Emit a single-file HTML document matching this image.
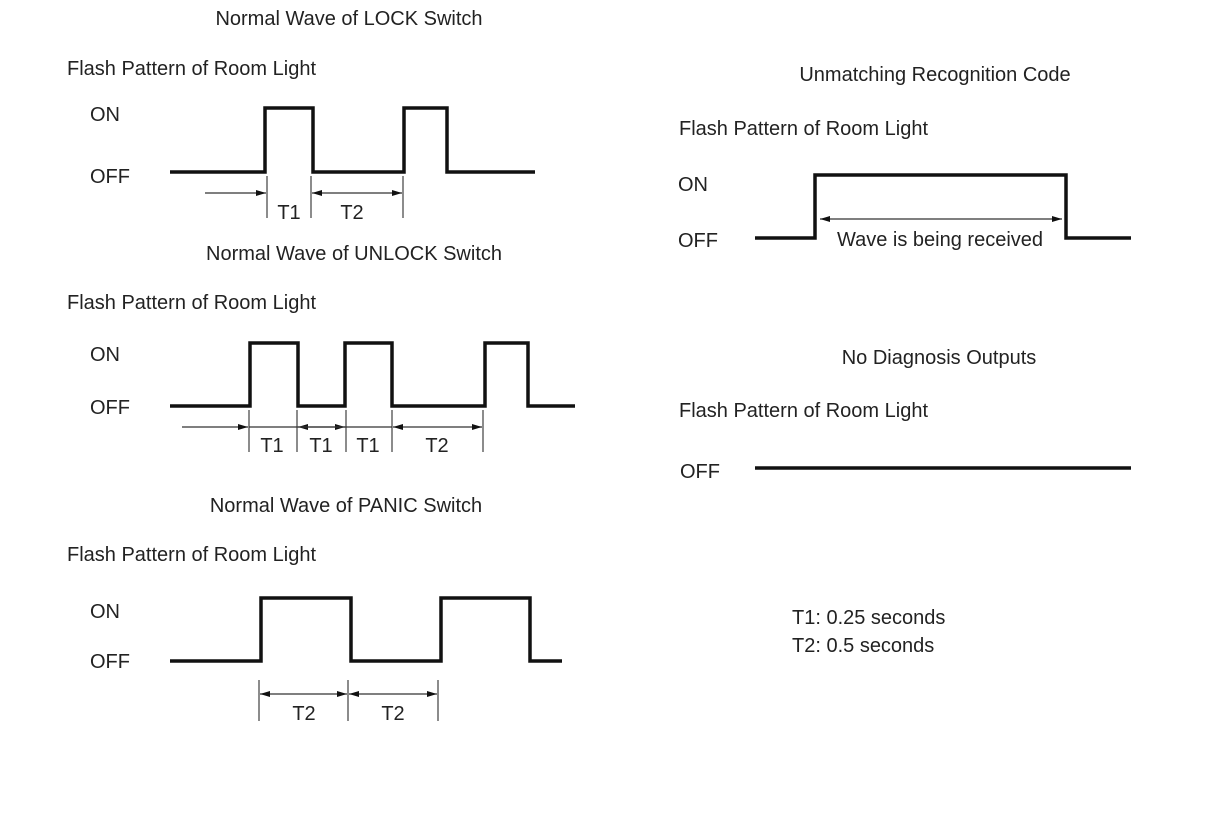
<!DOCTYPE html>
<html><head><meta charset="utf-8"><style>
html,body{margin:0;padding:0;background:#fff;}
svg{display:block;}
text{font-family:"Liberation Sans",Arial,sans-serif;font-size:20px;fill:#222;}
.w{fill:none;stroke:#111;stroke-width:3.5;}
.d{stroke:#333;stroke-width:1.3;fill:none;}
.t{stroke:#666;stroke-width:1.5;}
</style></head><body>
<svg width="1210" height="814" viewBox="0 0 1210 814">
<defs>
<marker id="ah" viewBox="0 0 10 6" refX="10" refY="3" markerWidth="14" markerHeight="6" markerUnits="userSpaceOnUse" orient="auto-start-reverse"><path d="M0,0 L10,3 L0,6 z" fill="#111"/></marker>
</defs>
<!-- LOCK -->
<text x="349" y="25" text-anchor="middle">Normal Wave of LOCK Switch</text>
<text x="67" y="75">Flash Pattern of Room Light</text>
<text x="90" y="121">ON</text>
<text x="90" y="183">OFF</text>
<path class="w" d="M170,172 H265 V108 H313 V172 H404 V108 H447 V172 H535"/>
<line class="t" x1="267" y1="176" x2="267" y2="218"/>
<line class="t" x1="311" y1="176" x2="311" y2="218"/>
<line class="t" x1="403" y1="176" x2="403" y2="218"/>
<line class="d" x1="205" y1="193" x2="266" y2="193" marker-end="url(#ah)"/>
<line class="d" x1="312" y1="193" x2="402" y2="193" marker-start="url(#ah)" marker-end="url(#ah)"/>
<text x="289" y="219" text-anchor="middle">T1</text>
<text x="352" y="219" text-anchor="middle">T2</text>
<!-- UNLOCK -->
<text x="354" y="260" text-anchor="middle">Normal Wave of UNLOCK Switch</text>
<text x="67" y="309">Flash Pattern of Room Light</text>
<text x="90" y="361">ON</text>
<text x="90" y="414">OFF</text>
<path class="w" d="M170,406 H250 V343 H298 V406 H345 V343 H392 V406 H485 V343 H528 V406 H575"/>
<line class="t" x1="249" y1="410" x2="249" y2="452"/>
<line class="t" x1="297" y1="410" x2="297" y2="452"/>
<line class="t" x1="346" y1="410" x2="346" y2="452"/>
<line class="t" x1="392" y1="410" x2="392" y2="452"/>
<line class="t" x1="483" y1="410" x2="483" y2="452"/>
<line class="d" x1="182" y1="427" x2="248" y2="427" marker-end="url(#ah)"/>
<line class="d" x1="298" y1="427" x2="345" y2="427" marker-start="url(#ah)" marker-end="url(#ah)"/>
<line class="d" x1="393" y1="427" x2="482" y2="427" marker-start="url(#ah)" marker-end="url(#ah)"/>
<line class="d" x1="249" y1="427" x2="392" y2="427"/>
<text x="272" y="452" text-anchor="middle">T1</text>
<text x="321" y="452" text-anchor="middle">T1</text>
<text x="368" y="452" text-anchor="middle">T1</text>
<text x="437" y="452" text-anchor="middle">T2</text>
<!-- PANIC -->
<text x="346" y="512" text-anchor="middle">Normal Wave of PANIC Switch</text>
<text x="67" y="561">Flash Pattern of Room Light</text>
<text x="90" y="618">ON</text>
<text x="90" y="668">OFF</text>
<path class="w" d="M170,661 H261 V598 H351 V661 H441 V598 H530 V661 H562"/>
<line class="t" x1="259" y1="680" x2="259" y2="721"/>
<line class="t" x1="348" y1="680" x2="348" y2="721"/>
<line class="t" x1="438" y1="680" x2="438" y2="721"/>
<line class="d" x1="260" y1="694" x2="347" y2="694" marker-start="url(#ah)" marker-end="url(#ah)"/>
<line class="d" x1="349" y1="694" x2="437" y2="694" marker-start="url(#ah)" marker-end="url(#ah)"/>
<text x="304" y="720" text-anchor="middle">T2</text>
<text x="393" y="720" text-anchor="middle">T2</text>
<!-- Unmatching -->
<text x="935" y="81" text-anchor="middle">Unmatching Recognition Code</text>
<text x="679" y="135">Flash Pattern of Room Light</text>
<text x="678" y="191">ON</text>
<text x="678" y="247">OFF</text>
<path class="w" d="M755,238 H815 V175 H1066 V238 H1131"/>
<line class="d" x1="820" y1="219" x2="1062" y2="219" marker-start="url(#ah)" marker-end="url(#ah)"/>
<text x="940" y="246" text-anchor="middle">Wave is being received</text>
<!-- No diagnosis -->
<text x="939" y="364" text-anchor="middle">No Diagnosis Outputs</text>
<text x="679" y="417">Flash Pattern of Room Light</text>
<text x="680" y="478">OFF</text>
<line class="w" x1="755" y1="468" x2="1131" y2="468"/>
<!-- legend -->
<text x="792" y="624">T1: 0.25 seconds</text>
<text x="792" y="652">T2: 0.5 seconds</text>
</svg>
</body></html>
